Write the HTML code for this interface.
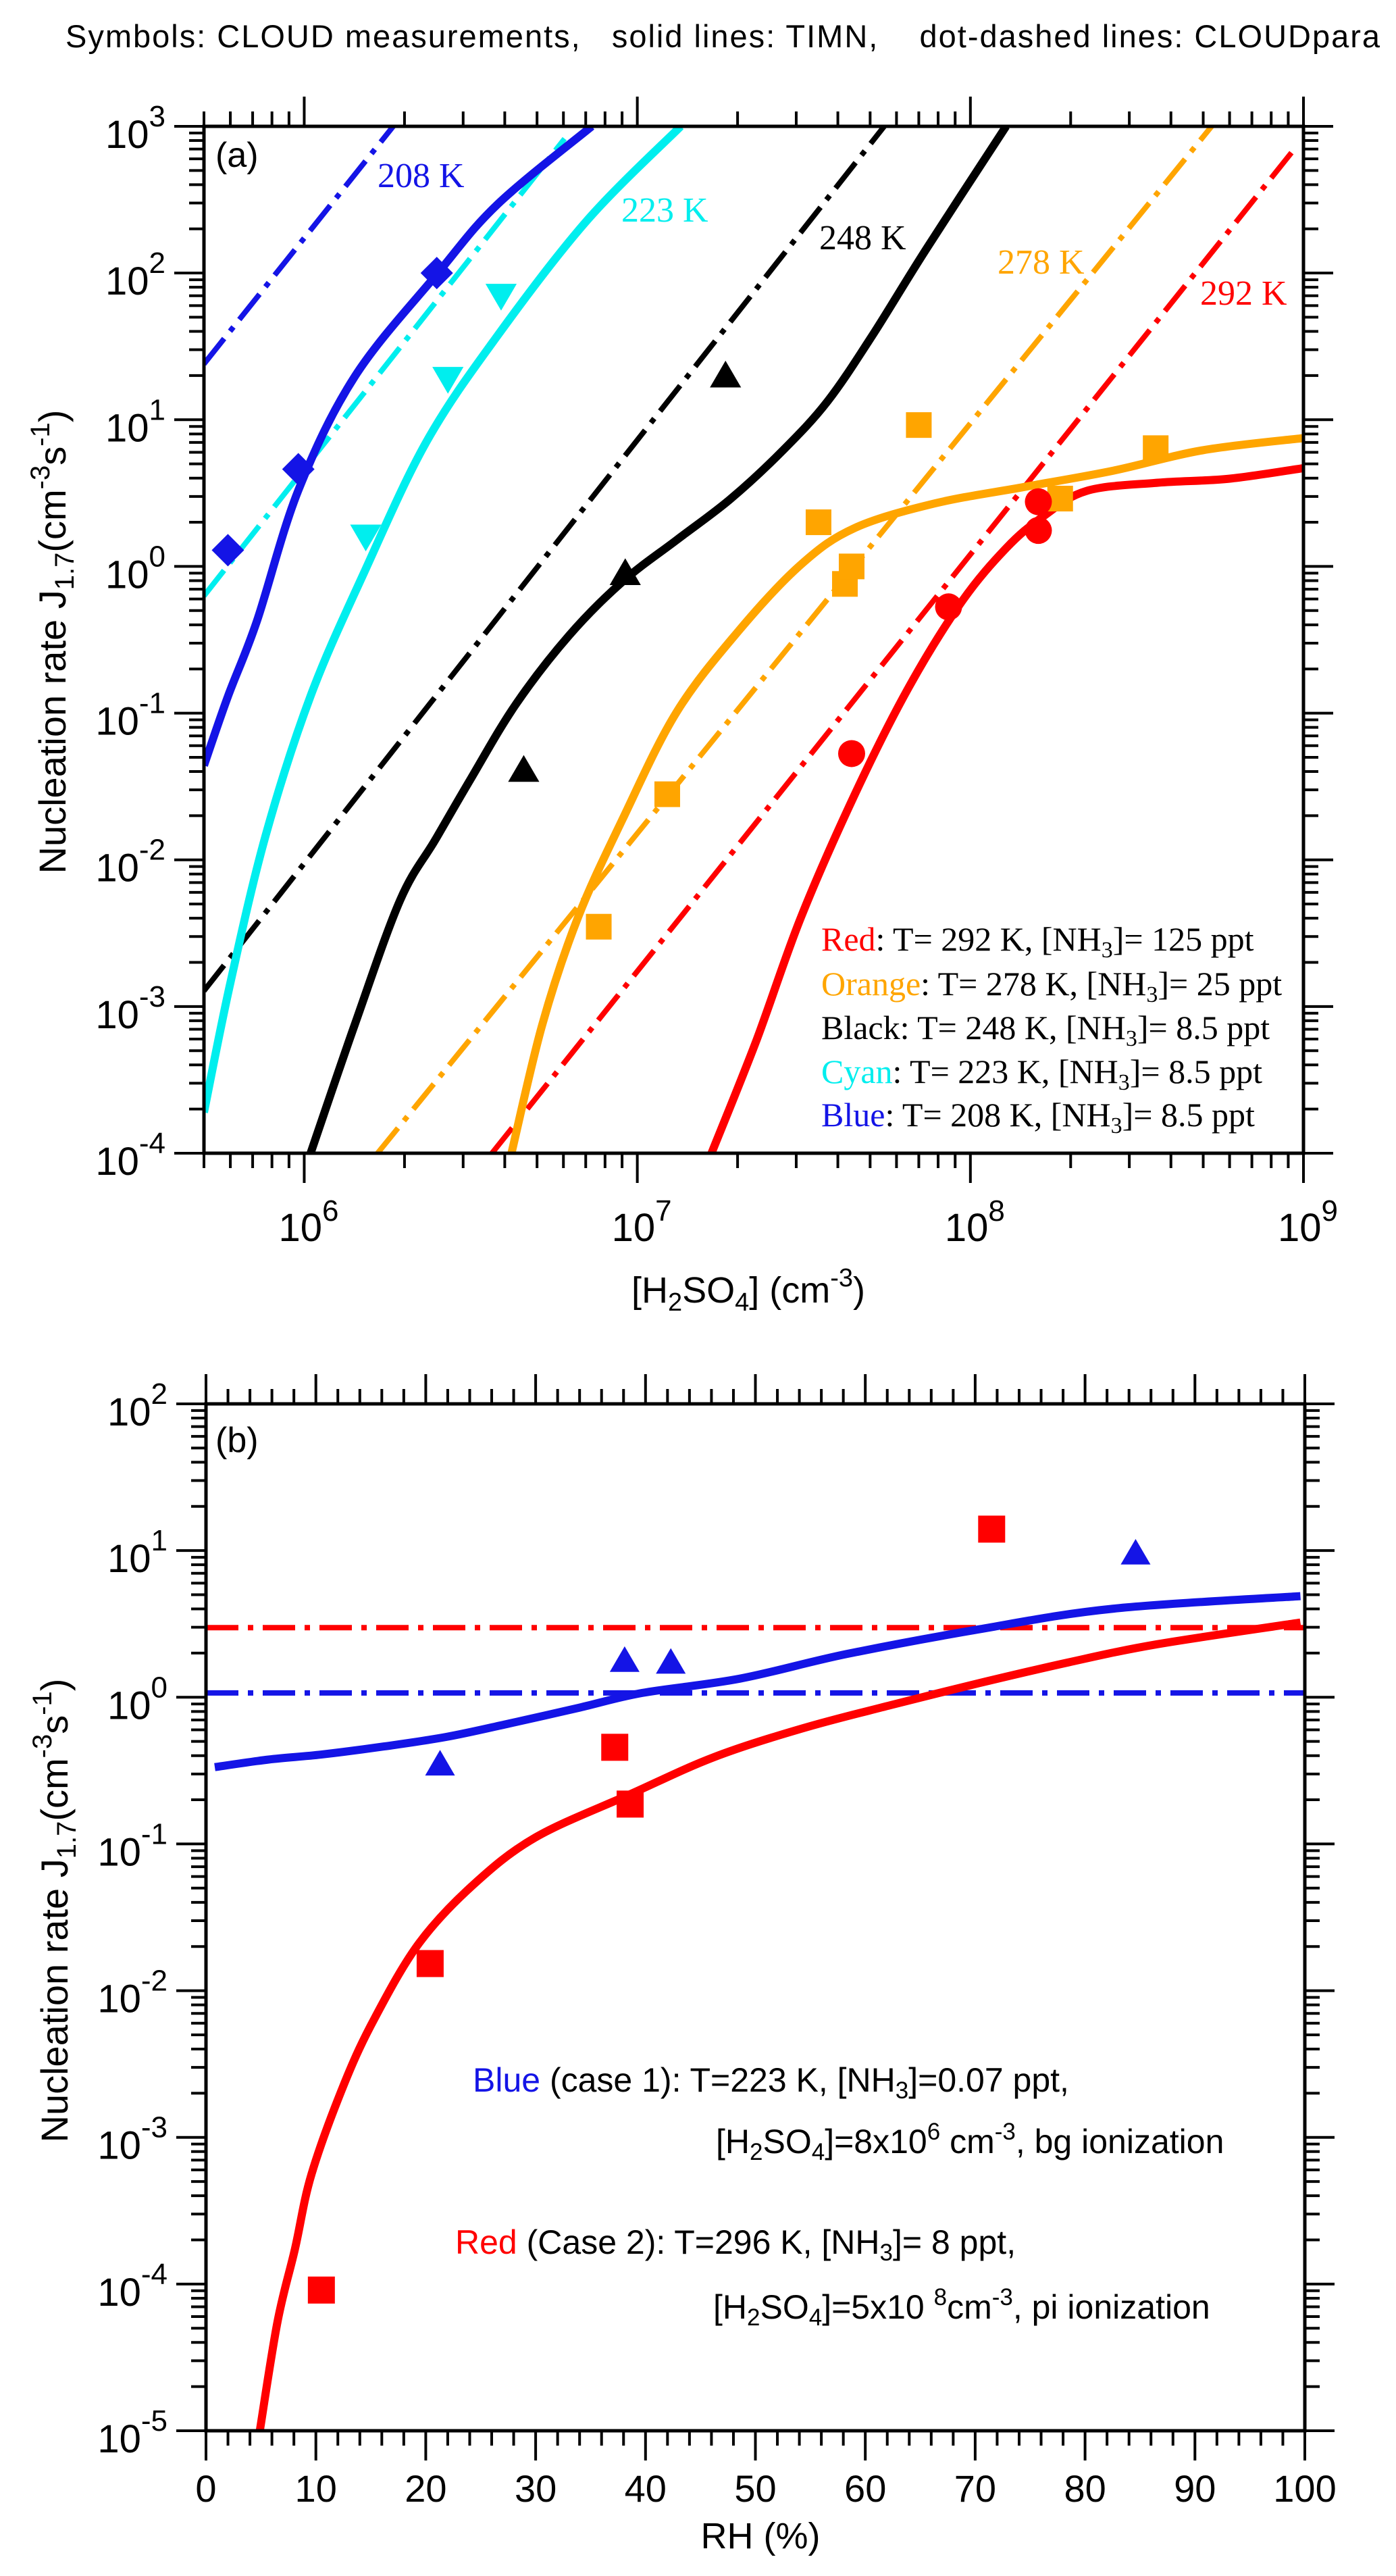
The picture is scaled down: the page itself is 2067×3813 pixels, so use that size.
<!DOCTYPE html>
<html><head><meta charset="utf-8"><style>
html,body{margin:0;padding:0;background:#fff;}
svg{display:block;}
text{font-family:"Liberation Sans",Arial,sans-serif;}
.serif{font-family:"Liberation Serif","Times New Roman",serif;}
</style></head><body>
<svg id="fig" width="2067" height="3813" viewBox="0 0 2067 3813" xmlns="http://www.w3.org/2000/svg">
<defs>
<clipPath id="clipA"><rect x="302" y="187" width="1628" height="1520"/></clipPath>
<clipPath id="clipB"><rect x="305" y="2078" width="1627" height="1520"/></clipPath>
</defs>
<text x="97" y="70" font-size="47" textLength="1946" lengthAdjust="spacing" style="white-space:pre">Symbols: CLOUD measurements,   solid lines: TIMN,    dot-dashed lines: CLOUDpara</text>
<g id="panelA"></g>
<g id="panelB"></g>
</svg>
<script>
// ---------- Panel (a) data ----------
const aBlueSolidX = [5.0e5, 5.9e5, 7.2e5, 9.6e5, 1.42e6, 2.52e6, 3.81e6, 7.3e6];
const aBlueSolidY = [0.044, 0.13, 0.42, 3.3, 19.8, 100, 295, 1000];
const aCyanSolidX = [5.0e5, 6.0e5, 7.66e5, 1.045e6, 1.51e6, 2.33e6, 3.81e6, 7.06e6, 1.35e7];
const aCyanSolidY = [1.9e-4, 1.45e-3, 0.0147, 0.131, 0.9, 7.1, 37.6, 228, 1000];
const aBlackSolidX = [1.045e6, 1.42e6, 1.94e6, 2.48e6, 3.17e6, 4.32e6, 6.25e6, 9.04e6, 1.31e7, 1.9e7, 2.74e7, 3.73e7, 5.08e7, 7.36e7, 1.28e8];
const aBlackSolidY = [1e-4, 7.6e-4, 5.3e-3, 0.0138, 0.036, 0.115, 0.34, 0.79, 1.51, 2.87, 6.2, 13.4, 37.6, 145, 1000];
const aOrangeSolidX = [4.19e6, 5.19e6, 6.64e6, 9.04e6, 1.31e7, 2.02e7, 3.1e7, 4.5e7, 7.83e7, 1.45e8, 2.69e8, 4.99e8, 1e9];
const aOrangeSolidY = [1e-4, 7.6e-4, 4.06e-3, 0.019, 0.101, 0.366, 1.03, 1.83, 2.69, 3.48, 4.5, 6.2, 7.5];
const aRedSolidX = [1.67e7, 2.28e7, 3.1e7, 4.5e7, 6.52e7, 9.42e7, 1.28e8, 1.64e8, 2.23e8, 3.66e8, 5.98e8, 1e9];
const aRedSolidY = [1e-4, 5.9e-4, 4.06e-3, 0.028, 0.149, 0.575, 1.33, 2.16, 3.27, 3.72, 3.96, 4.68];

const aBlueDashX = [5.0e5, 1.85e6];   const aBlueDashY = [24, 1000];
const aCyanDashX = [5.0e5, 6.05e6];   const aCyanDashY = [0.63, 824];
const aBlackDashX = [5.0e5, 5.51e7];  const aBlackDashY = [1.28e-3, 1000];
const aOrangeDashX = [1.66e6, 5.3e8]; const aOrangeDashY = [1e-4, 1000];
const aRedDashX = [3.66e6, 9.5e8];    const aRedDashY = [1e-4, 724];

const aBlueMarkX = [5.9e5, 9.6e5, 2.5e6];        const aBlueMarkY = [1.29, 4.6, 100];
const aCyanMarkX = [1.53e6, 2.7e6, 3.9e6];       const aCyanMarkY = [1.6, 19, 70];
const aBlackMarkX = [4.56e6, 9.2e6, 1.84e7];     const aBlackMarkY = [0.041, 0.9, 20];
const aOrangeMarkX = [7.66e6, 1.23e7, 3.5e7, 4.2e7, 4.4e7, 7.0e7, 1.86e8, 3.6e8];
const aOrangeMarkY = [0.0035, 0.028, 2.0, 0.76, 1.0, 9.2, 2.9, 6.4];
const aRedMarkX = [4.4e7, 8.6e7, 1.6e8, 1.6e8]; const aRedMarkY = [0.053, 0.53, 1.76, 2.76];

const aXTickExps = [6, 7, 8, 9];
const aYTickExps = [3, 2, 1, 0, -1, -2, -3, -4];

// ---------- Panel (b) data ----------
const bBlueSolidX = [0.8, 5.7, 10.5, 16.2, 21.9, 27.5, 34, 39.7, 48.6, 58.3, 70.4, 82.6, 99.6];
const bBlueSolidY = [0.334, 0.376, 0.407, 0.462, 0.537, 0.66, 0.85, 1.07, 1.34, 1.97, 2.91, 4.02, 4.89];
const bRedSolidX = [4.9, 6.5, 8.1, 9.6, 12.6, 15.4, 19.4, 24.3, 30, 38.6, 46.2, 54.3, 62.3, 70.4, 78.5, 86.6, 99.6];
const bRedSolidY = [1e-5, 5.5e-5, 1.74e-4, 5.6e-4, 2.34e-3, 6.6e-3, 0.0211, 0.0525, 0.111, 0.218, 0.39, 0.614, 0.883, 1.25, 1.73, 2.3, 3.23];
const bRedDashX = [0, 100];  const bRedDashY = [2.98, 2.98];
const bBlueDashX = [0, 100]; const bBlueDashY = [1.07, 1.07];
const bRedMarkX = [10.5, 20.4, 37.2, 38.6, 71.5]; const bRedMarkY = [9.1e-5, 0.0153, 0.456, 0.187, 14];
const bBlueMarkX = [21.3, 38.1, 42.3, 84.6];      const bBlueMarkY = [0.35, 1.78, 1.73, 9.6];
const bXTicks = [0, 10, 20, 30, 40, 50, 60, 70, 80, 90, 100];
const bYTickExps = [2, 1, 0, -1, -2, -3, -4, -5];

const C = {blue:'#1414e6', cyan:'#00eeee', black:'#000000', orange:'#ffa500', red:'#ff0000'};
const NS = 'http://www.w3.org/2000/svg';

function mk(parent, tag, attrs){
  const e = document.createElementNS(NS, tag);
  for (const k in attrs) e.setAttribute(k, attrs[k]);
  parent.appendChild(e);
  return e;
}

const A = {x0:302, x1:1930, y0:187, y1:1707, lx0:Math.log10(5e5), lx1:9, ly0:-4, ly1:3};
function axA(v){ return A.x0 + (Math.log10(v)-A.lx0)/(A.lx1-A.lx0)*(A.x1-A.x0); }
function ayA(v){ return A.y1 - (Math.log10(v)-A.ly0)/(A.ly1-A.ly0)*(A.y1-A.y0); }
const B = {x0:305, x1:1932, y0:2078, y1:3598, ly0:-5, ly1:2};
function bxB(v){ return B.x0 + v/100*(B.x1-B.x0); }
function byB(v){ return B.y1 - (Math.log10(v)-B.ly0)/(B.ly1-B.ly0)*(B.y1-B.y0); }

function line(g, xs, ys, fx, fy, color, dashed, name, clip){
  const P = xs.map((x,i)=>[fx(x), fy(ys[i])]);
  let d = 'M' + P[0][0].toFixed(1) + ',' + P[0][1].toFixed(1);
  if (dashed || P.length < 3){
    for (let i=1;i<P.length;i++) d += 'L' + P[i][0].toFixed(1) + ',' + P[i][1].toFixed(1);
  } else {
    for (let i=0;i<P.length-1;i++){
      const p0 = P[Math.max(0,i-1)], p1 = P[i], p2 = P[i+1], p3 = P[Math.min(P.length-1,i+2)];
      const c1 = [p1[0]+(p2[0]-p0[0])/6, p1[1]+(p2[1]-p0[1])/6];
      const c2 = [p2[0]-(p3[0]-p1[0])/6, p2[1]-(p3[1]-p1[1])/6];
      d += 'C' + c1[0].toFixed(1)+','+c1[1].toFixed(1)+' '+c2[0].toFixed(1)+','+c2[1].toFixed(1)+' '+p2[0].toFixed(1)+','+p2[1].toFixed(1);
    }
  }
  const p = mk(g, 'path', {d:d, fill:'none', stroke:color, 'stroke-width': dashed?8:12, 'stroke-linejoin':'round', 'clip-path':'url(#'+clip+')'});
  if (dashed) p.setAttribute('stroke-dasharray', '48 14 8 14');
  
  
}

function markers(g, xs, ys, fx, fy, color, shape, name, s){
  for (let i=0;i<xs.length;i++){
    const x = fx(xs[i]), y = fy(ys[i]);
    let e;
    if (shape==='circle') e = mk(g,'circle',{cx:x,cy:y,r:s,fill:color});
    else if (shape==='square') e = mk(g,'rect',{x:x-s,y:y-s,width:2*s,height:2*s,fill:color});
    else if (shape==='diamond') e = mk(g,'polygon',{points:`${x},${y-s} ${x+s},${y} ${x},${y+s} ${x-s},${y}`,fill:color});
    else if (shape==='tri-up') e = mk(g,'polygon',{points:`${x},${y-s} ${x+s*1.05},${y+s*0.8} ${x-s*1.05},${y+s*0.8}`,fill:color});
    else e = mk(g,'polygon',{points:`${x},${y+s} ${x+s*1.05},${y-s*0.8} ${x-s*1.05},${y-s*0.8}`,fill:color});
    
    
  }
}

function frame(g, P, name){
  const r = mk(g,'rect',{x:P.x0,y:P.y0,width:P.x1-P.x0,height:P.y1-P.y0,fill:'none',stroke:'#000','stroke-width':5});
  
  
}

function yLogTicks(g, P, fy, exps, name){
  const tg = mk(g,'g',{stroke:'#000','stroke-width':4});
  
  
  const lo = Math.min(...exps), hi = Math.max(...exps);
  for (let e=lo;e<=hi;e++){
    for (let k=1;k<10;k++){
      if (e===hi && k>1) break;
      const y = fy(k*Math.pow(10,e));
      const L = k===1?44:22;
      mk(tg,'line',{x1:P.x0-L,y1:y,x2:P.x0,y2:y});
      mk(tg,'line',{x1:P.x1,y1:y,x2:P.x1+L,y2:y});
    }
  }
  for (const e of exps){
    const y = fy(Math.pow(10,e));
    const t = mk(g,'text',{x:P.x0-57,y:y+32,'text-anchor':'end','font-size':58});
    t.textContent = '10';
    const s = mk(t,'tspan',{dy:-32,'font-size':44});
    s.textContent = String(e);
    
    
  }
}

(function(){
  const g = document.getElementById('panelA');
  const tg = mk(g,'g',{stroke:'#000','stroke-width':4});
  
  
  for (let e=5;e<=9;e++){
    for (let k=1;k<10;k++){
      const v = k*Math.pow(10,e);
      if (v<5e5-1 || v>1e9+1) continue;
      const x = axA(v), L = k===1?44:22;
      mk(tg,'line',{x1:x,y1:A.y1,x2:x,y2:A.y1+L});
      mk(tg,'line',{x1:x,y1:A.y0-L,x2:x,y2:A.y0});
    }
  }
  for (const e of aXTickExps){
    const x = axA(Math.pow(10,e));
    const t = mk(g,'text',{x:x-38,y:1837,'font-size':58});
    t.textContent = '10';
    const s = mk(t,'tspan',{dy:-30,'font-size':44});
    s.textContent = String(e);
    
    
  }
  yLogTicks(g, A, ayA, aYTickExps, 'y-axis-ticks-a');

  line(g, aBlueDashX, aBlueDashY, axA, ayA, C.blue, true, 'cloudpara-208k', 'clipA');
  line(g, aCyanDashX, aCyanDashY, axA, ayA, C.cyan, true, 'cloudpara-223k', 'clipA');
  line(g, aBlackDashX, aBlackDashY, axA, ayA, C.black, true, 'cloudpara-248k', 'clipA');
  line(g, aOrangeDashX, aOrangeDashY, axA, ayA, C.orange, true, 'cloudpara-278k', 'clipA');
  line(g, aRedDashX, aRedDashY, axA, ayA, C.red, true, 'cloudpara-292k', 'clipA');
  line(g, aCyanSolidX, aCyanSolidY, axA, ayA, C.cyan, false, 'timn-223k', 'clipA');
  line(g, aBlueSolidX, aBlueSolidY, axA, ayA, C.blue, false, 'timn-208k', 'clipA');
  line(g, aBlackSolidX, aBlackSolidY, axA, ayA, C.black, false, 'timn-248k', 'clipA');
  line(g, aOrangeSolidX, aOrangeSolidY, axA, ayA, C.orange, false, 'timn-278k', 'clipA');
  line(g, aRedSolidX, aRedSolidY, axA, ayA, C.red, false, 'timn-292k', 'clipA');

  markers(g, aBlueMarkX, aBlueMarkY, axA, ayA, C.blue, 'diamond', 'cloud-208k-point', 24);
  markers(g, aCyanMarkX, aCyanMarkY, axA, ayA, C.cyan, 'tri-down', 'cloud-223k-point', 22);
  markers(g, aBlackMarkX, aBlackMarkY, axA, ayA, C.black, 'tri-up', 'cloud-248k-point', 22);
  markers(g, aOrangeMarkX, aOrangeMarkY, axA, ayA, C.orange, 'square', 'cloud-278k-point', 19);
  markers(g, aRedMarkX, aRedMarkY, axA, ayA, C.red, 'circle', 'cloud-292k-point', 20);
  frame(g, A, 'plot-frame-a');
})();

(function(){
  const g = document.getElementById('panelB');
  const tg = mk(g,'g',{stroke:'#000','stroke-width':4});
  
  
  for (let v=0; v<=100; v+=2){
    const x = bxB(v), L = v%10===0?44:22;
    mk(tg,'line',{x1:x,y1:B.y1,x2:x,y2:B.y1+L});
    mk(tg,'line',{x1:x,y1:B.y0-L,x2:x,y2:B.y0});
  }
  for (const v of bXTicks){
    const t = mk(g,'text',{x:bxB(v),y:3703,'text-anchor':'middle','font-size':56});
    t.textContent = String(v);
    
    
  }
  yLogTicks(g, B, byB, bYTickExps, 'y-axis-ticks-b');

  line(g, bRedDashX, bRedDashY, bxB, byB, C.red, true, 'cloudpara-case2', 'clipB');
  line(g, bBlueDashX, bBlueDashY, bxB, byB, C.blue, true, 'cloudpara-case1', 'clipB');
  line(g, bBlueSolidX, bBlueSolidY, bxB, byB, C.blue, false, 'timn-case1', 'clipB');
  line(g, bRedSolidX, bRedSolidY, bxB, byB, C.red, false, 'timn-case2', 'clipB');
  markers(g, bRedMarkX, bRedMarkY, bxB, byB, C.red, 'square', 'cloud-case2-point', 20);
  markers(g, bBlueMarkX, bBlueMarkY, bxB, byB, C.blue, 'tri-up', 'cloud-case1-point', 21);
  frame(g, B, 'plot-frame-b');
})();
</script>
<svg style="position:absolute;left:0;top:0" width="2067" height="3813" viewBox="0 0 2067 3813" xmlns="http://www.w3.org/2000/svg">
<text x="319" y="247" font-size="52">(a)</text>
<text class="serif" x="559" y="277" font-size="52" fill="#1414e6">208 K</text>
<text class="serif" x="920" y="328" font-size="52" fill="#00eeee">223 K</text>
<text class="serif" x="1213" y="369" font-size="52" fill="#000">248 K</text>
<text class="serif" x="1477" y="405" font-size="52" fill="#ffa500">278 K</text>
<text class="serif" x="1777" y="451" font-size="52" fill="#ff0000">292 K</text>
<g class="serif" font-size="50">
<text class="serif" x="1216" y="1407"><tspan fill="#ff0000">Red</tspan>: T= 292 K, [NH<tspan font-size="34" dy="10">3</tspan><tspan dy="-10">]= 125 ppt</tspan></text>
<text class="serif" x="1216" y="1473"><tspan fill="#ffa500">Orange</tspan>: T= 278 K, [NH<tspan font-size="34" dy="10">3</tspan><tspan dy="-10">]= 25 ppt</tspan></text>
<text class="serif" x="1216" y="1538">Black: T= 248 K, [NH<tspan font-size="34" dy="10">3</tspan><tspan dy="-10">]= 8.5 ppt</tspan></text>
<text class="serif" x="1216" y="1603"><tspan fill="#00eeee">Cyan</tspan>: T= 223 K, [NH<tspan font-size="34" dy="10">3</tspan><tspan dy="-10">]= 8.5 ppt</tspan></text>
<text class="serif" x="1216" y="1667"><tspan fill="#1414e6">Blue</tspan>: T= 208 K, [NH<tspan font-size="34" dy="10">3</tspan><tspan dy="-10">]= 8.5 ppt</tspan></text>
</g>
<text x="1108" y="1928" text-anchor="middle" font-size="54">[H<tspan font-size="38" dy="12">2</tspan><tspan dy="-12">SO</tspan><tspan font-size="38" dy="12">4</tspan><tspan dy="-12">] (cm</tspan><tspan font-size="38" dy="-24">-3</tspan><tspan dy="24">)</tspan></text>
<text transform="translate(97,950) rotate(-90)" text-anchor="middle" font-size="56">Nucleation rate  J<tspan font-size="40" dy="12">1.7</tspan><tspan dy="-12">(cm</tspan><tspan font-size="40" dy="-24">-3</tspan><tspan dy="24">s</tspan><tspan font-size="40" dy="-24">-1</tspan><tspan dy="24">)</tspan></text>
<text x="319" y="2149" font-size="52">(b)</text>
<text x="700" y="3096" font-size="50"><tspan fill="#1414e6">Blue</tspan> (case 1): T=223 K, [NH<tspan font-size="35" dy="10">3</tspan><tspan dy="-10">]=0.07 ppt,</tspan></text>
<text x="1060" y="3187" font-size="50">[H<tspan font-size="35" dy="10">2</tspan><tspan dy="-10">SO</tspan><tspan font-size="35" dy="10">4</tspan><tspan dy="-10">]=8x10</tspan><tspan font-size="35" dy="-20">6</tspan><tspan dy="20"> cm</tspan><tspan font-size="35" dy="-20">-3</tspan><tspan dy="20">, bg ionization</tspan></text>
<text x="674" y="3336" font-size="50"><tspan fill="#ff0000">Red</tspan> (Case 2):  T=296 K, [NH<tspan font-size="35" dy="10">3</tspan><tspan dy="-10">]= 8 ppt,</tspan></text>
<text x="1056" y="3432" font-size="50">[H<tspan font-size="35" dy="10">2</tspan><tspan dy="-10">SO</tspan><tspan font-size="35" dy="10">4</tspan><tspan dy="-10">]=5x10 </tspan><tspan font-size="35" dy="-20">8</tspan><tspan dy="20">cm</tspan><tspan font-size="35" dy="-20">-3</tspan><tspan dy="20">, pi ionization</tspan></text>
<text x="1126" y="3772" text-anchor="middle" font-size="54">RH (%)</text>
<text transform="translate(100,2828) rotate(-90)" text-anchor="middle" font-size="56">Nucleation rate  J<tspan font-size="40" dy="12">1.7</tspan><tspan dy="-12">(cm</tspan><tspan font-size="40" dy="-24">-3</tspan><tspan dy="24">s</tspan><tspan font-size="40" dy="-24">-1</tspan><tspan dy="24">)</tspan></text>
</svg>
</body></html>
